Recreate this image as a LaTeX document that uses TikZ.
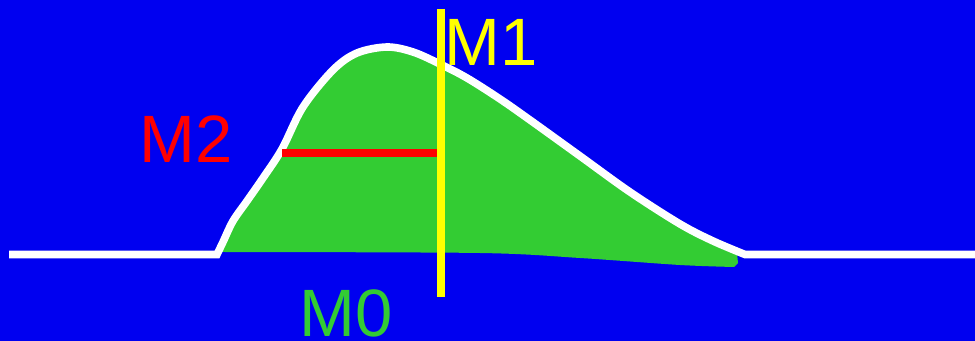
\documentclass[tikz,border=0pt]{standalone}
\usepackage{fontspec}
\setmainfont{Liberation Sans}
\definecolor{hgblau}{RGB}{0,0,240}
\definecolor{flgruen}{RGB}{51,204,51}
\definecolor{mgelb}{RGB}{255,255,0}
\definecolor{mrot}{RGB}{255,0,0}
\begin{document}
\begin{tikzpicture}[x=0.5pt, y=-0.5pt, kurve/.style={draw=white, line width=3.8pt},
        mline/.style={line width=4pt},
        lbl/.style={anchor=base west, inner sep=0pt, font=\fontsize{33.5}{40}\selectfont}]
        % Hintergrund
        \useasboundingbox (0,0) rectangle (975,341);
        \fill[hgblau] (0,0) rectangle (975,341);
        % Flaeche unter der Kurve (M0)
        \fill[flgruen] plot[smooth, tension=0.55] coordinates {(220,253) (224,241) (234,221) (248,201) (264,178) (283,150) (304,108) (334,71) (358,54) (387,48) (413,53) (440,65) (467,79) (500,100) (530,121) (580,157) (630,193) (680,225) (713,242) (737,253)}
            -- (738,263) -- plot[smooth] coordinates {(734,267) (680,265) (580,258) (480,253) (221,252)} -- cycle;
        % Grundlinie und Kurve
        \draw[kurve] (9,254.5) -- (217,254.5) -- plot[smooth, tension=0.55] coordinates {(217,254.5) (223,242) (233,221) (247,201) (263,178) (282,149) (303,107) (333,70) (357,53) (387,47) (413,52) (440,64) (467,78) (500,99) (530,120) (580,156) (630,192) (680,224) (713,241) (745,254.5)} -- (975,254.5);
        % Halbe Breite (M2) und Schwerpunkt (M1)
        \coordinate (m2l) at (282,153);
        \coordinate (m2r) at (441,153);
        \coordinate (m1o) at (441,9);
        \coordinate (m1u) at (441,297);
        \draw[mline, mrot] (m2l) -- (m2r);
        \draw[mline, mgelb] (m1o) -- (m1u);
        % Beschriftung
        \node[lbl, text=mgelb]   (t1) at (444,66)  {M1};
        \node[lbl, text=mrot]    (t2) at (139,163) {M2};
        \node[lbl, text=flgruen] (t0) at (299,337) {M0};
    \end{tikzpicture}
\end{document}
